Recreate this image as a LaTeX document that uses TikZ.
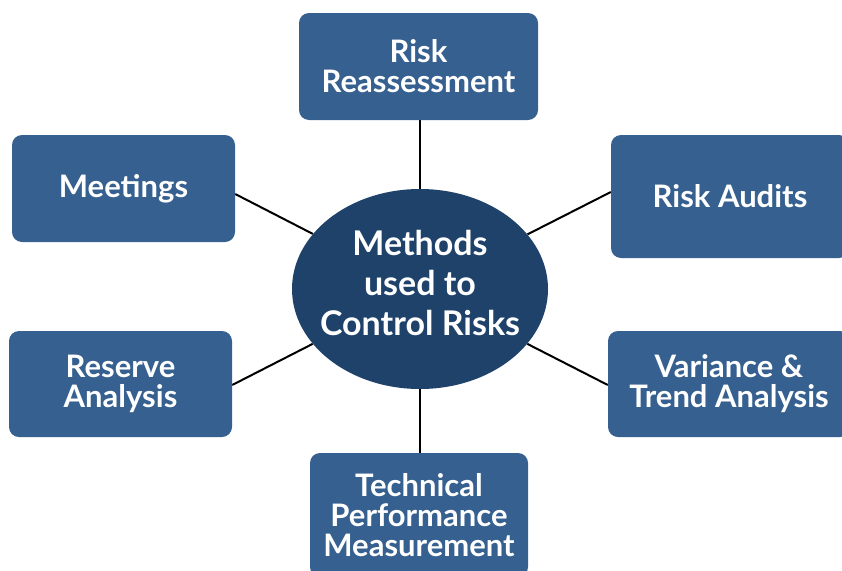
\documentclass[tikz,border=0pt]{standalone}
\usepackage{fontspec}
\setmainfont{Lato}
\usetikzlibrary{shapes.geometric,backgrounds,calc}
\definecolor{boxblue}{RGB}{53,96,143}
\definecolor{ellblue}{RGB}{31,66,106}
\tikzset{
  methodbox/.style={draw=none, fill=boxblue, rounded corners=10pt, text=white,
    align=center, font=\fontsize{31}{30}\selectfont\bfseries, inner sep=0pt},
  hub/.style={ellipse, fill=ellblue, inner sep=0pt,
    minimum width=256pt, minimum height=200pt},
  hubtext/.style={text=white, align=center, inner sep=0pt,
    font=\fontsize{34}{40}\selectfont\bfseries},
  link/.style={draw=black, line width=2pt}
}
\begin{document}
\begin{tikzpicture}[x=1pt,y=-1pt]
\useasboundingbox (0,0) rectangle (842,570);
\clip (0,0) rectangle (842,570);
\node[hub] (c) at (420,289) {};
\node[hubtext] (ct) at (420,283) {Methods\\used to\\Control Risks};
\node[methodbox, minimum width=239pt, minimum height=107pt] (rr) at (418.5,66.5) {Risk\\Reassessment};
\node[methodbox, minimum width=223pt, minimum height=107pt] (mt) at (123.5,188.5) {Meetings};
\node[methodbox, minimum width=238pt, minimum height=123pt] (ra) at (730,196.5) {Risk Audits};
\node[methodbox, minimum width=223pt, minimum height=106pt] (res) at (120.5,384) {Reserve\\Analysis};
\node[methodbox, minimum width=242pt, minimum height=106pt] (va) at (729,384) {Variance \&\\Trend Analysis};
\node[methodbox, minimum width=218pt, minimum height=124pt] (tpm) at (419,515) {Technical\\Performance\\Measurement};
\begin{scope}[on background layer]
\draw[link] (c) -- (c |- rr.south);
\draw[link] (c) -- (c |- tpm.north);
\draw[link] (c) -- ($(mt.east)+(0,5.5)$);
\draw[link] (c) -- ($(ra.west)+(0,-4.5)$);
\draw[link] (c) -- ($(res.east)+(0,1)$);
\draw[link] (c) -- ($(va.west)+(0,1)$);
\end{scope}
\end{tikzpicture}
\end{document}
